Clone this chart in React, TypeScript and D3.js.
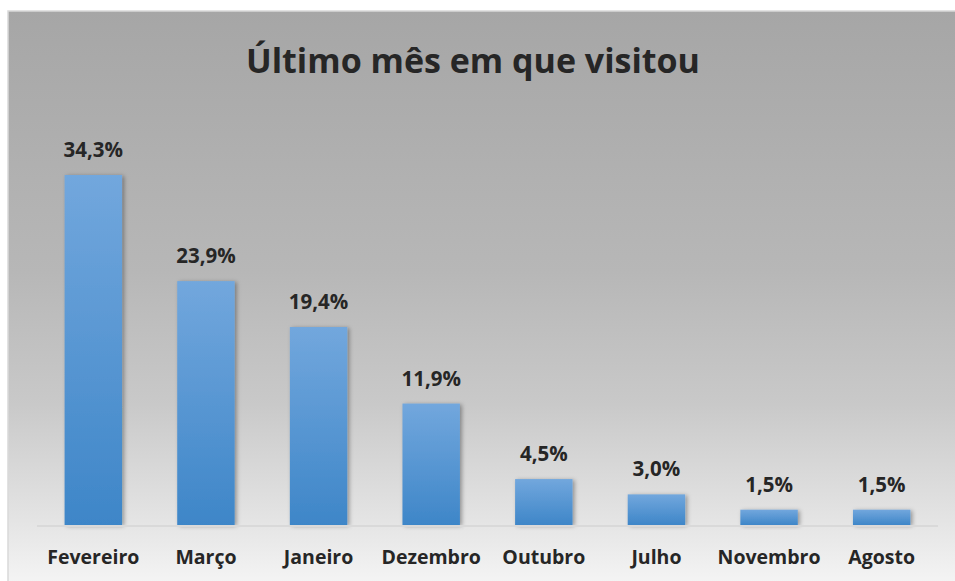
import * as d3 from 'd3'
import { useEffect, useRef } from 'react'

const months = ['Fevereiro', 'Março', 'Janeiro', 'Dezembro', 'Outubro', 'Julho', 'Novembro', 'Agosto']
const shares = [34.3, 23.9, 19.4, 11.9, 4.5, 3.0, 1.5, 1.5]
const title = 'Último mês em que visitou'

const W = 955
const H = 581

const App = () => {
    const ref = useRef<SVGSVGElement | null>(null)

    useEffect(() => {
        const svg = d3.select(ref.current)
        svg.selectAll('*').remove()

        const frame = { left: 8, top: 11, right: 960, bottom: 590 }
        const plot = { left: 37, right: 938, base: 525 }
        const font = "'Open Sans', 'DejaVu Sans', sans-serif"

        const defs = svg.append('defs')

        // chart area background, grey on top fading to almost white
        const bg = defs.append('linearGradient')
            .attr('id', 'bg')
            .attr('x1', 0).attr('y1', 0).attr('x2', 0).attr('y2', 1)
        bg.append('stop').attr('offset', '0%').attr('stop-color', '#a6a6a6')
        bg.append('stop').attr('offset', '45%').attr('stop-color', '#b7b7b7')
        bg.append('stop').attr('offset', '68%').attr('stop-color', '#c9c9c9')
        bg.append('stop').attr('offset', '88%').attr('stop-color', '#e4e4e4')
        bg.append('stop').attr('offset', '100%').attr('stop-color', '#f6f6f6')

        const bar = defs.append('linearGradient')
            .attr('id', 'bar')
            .attr('x1', 0).attr('y1', 0).attr('x2', 0).attr('y2', 1)
        bar.append('stop').attr('offset', '0%').attr('stop-color', '#72a7dd')
        bar.append('stop').attr('offset', '100%').attr('stop-color', '#3e86c8')

        const shadow = defs.append('filter')
            .attr('id', 'shadow')
            .attr('x', '-20%').attr('y', '-20%').attr('width', '150%').attr('height', '150%')
        shadow.append('feDropShadow')
            .attr('dx', 2).attr('dy', 1)
            .attr('stdDeviation', 2)
            .attr('flood-color', '#000')
            .attr('flood-opacity', 0.35)

        svg.append('rect')
            .attr('width', W).attr('height', H)
            .attr('fill', '#fff')

        svg.append('rect')
            .attr('x', frame.left).attr('y', frame.top)
            .attr('width', frame.right - frame.left)
            .attr('height', frame.bottom - frame.top)
            .attr('fill', 'url(#bg)')
            .attr('stroke', '#d9d9d9')
            .attr('stroke-width', 1.5)

        const x = d3.scaleBand<string>()
            .domain(months)
            .range([plot.left, plot.right])
            .paddingInner(0.49)
            .paddingOuter(0.245)

        const y = d3.scaleLinear()
            .domain([0, 34.3])
            .range([plot.base, 175])

        svg.append('text')
            .attr('x', 473).attr('y', 73)
            .attr('text-anchor', 'middle')
            .attr('font-family', font)
            .attr('font-weight', 700)
            .attr('font-size', 34)
            .attr('fill', '#262626')
            .text(title)

        svg.append('g')
            .selectAll('rect')
            .data(shares)
            .join('rect')
                .attr('x', (d, i) => x(months[i])!)
                .attr('y', d => y(d))
                .attr('width', x.bandwidth())
                .attr('height', d => plot.base - y(d))
                .attr('fill', 'url(#bar)')
                .attr('filter', 'url(#shadow)')

        // baseline
        svg.append('line')
            .attr('x1', plot.left).attr('x2', plot.right)
            .attr('y1', plot.base + 1).attr('y2', plot.base + 1)
            .attr('stroke', '#d9d9d9')
            .attr('stroke-width', 2)

        svg.append('g')
            .selectAll('text')
            .data(shares)
            .join('text')
                .attr('x', (d, i) => x(months[i])! + x.bandwidth() / 2)
                .attr('y', d => y(d) - 18)
                .attr('text-anchor', 'middle')
                .attr('font-family', font)
                .attr('font-weight', 700)
                .attr('font-size', 20.5)
                .attr('fill', '#262626')
                .text(d => d.toFixed(1).replace('.', ',') + '%')

        svg.append('g')
            .selectAll('text')
            .data(months)
            .join('text')
                .attr('x', d => x(d)! + x.bandwidth() / 2)
                .attr('y', 564)
                .attr('text-anchor', 'middle')
                .attr('font-family', font)
                .attr('font-weight', 700)
                .attr('font-size', 19.5)
                .attr('fill', '#262626')
                .text(d => d)
    }, [])

    return (
        <svg
            ref={ref}
            width={W}
            height={H}
            style={{ position: 'absolute', left: 0, top: 0, display: 'block' }}
        />
    )
}

export default App
